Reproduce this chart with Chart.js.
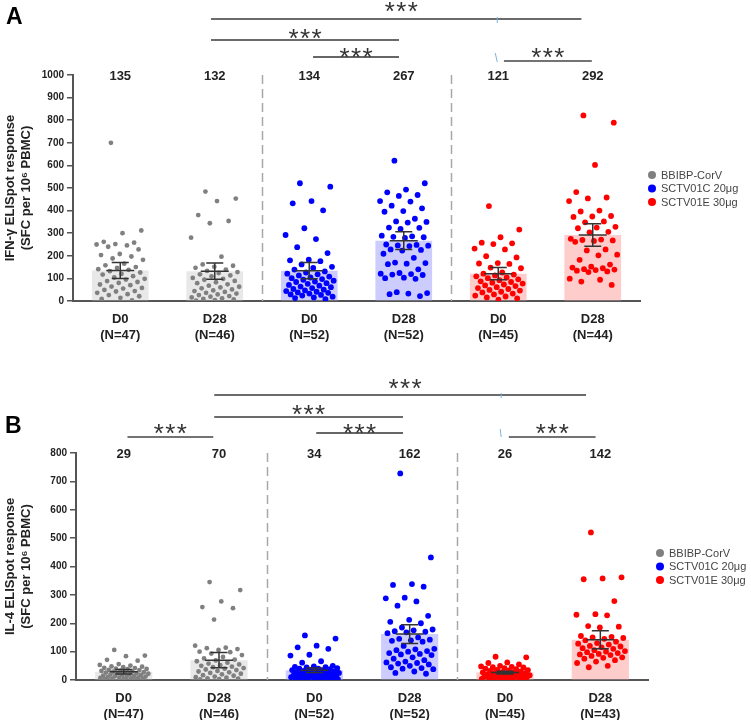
<!DOCTYPE html>
<html><head><meta charset="utf-8">
<script src="https://cdn.jsdelivr.net/npm/chart.js@4.4.1/dist/chart.umd.min.js"></script>
<style>
html,body{margin:0;padding:0;background:#fff;}
#wrap{position:relative;width:751px;height:724px;overflow:hidden;}
.panel{position:absolute;left:0;width:751px;height:362px;}
</style></head><body>
<div id="wrap">
<div class="panel" style="top:0"><canvas id="cA" width="751" height="362"></canvas></div>
<div class="panel" style="top:362px"><canvas id="cB" width="751" height="362"></canvas></div>
</div>
<script>
// ---------- data ----------
const categories = ['D0', 'D28', 'D0', 'D28', 'D0', 'D28'];
const groupNames = ['BBIBP-CorV', 'SCTV01C 20μg', 'SCTV01E 30μg'];
const nA = [47, 46, 52, 52, 45, 44];
const nB = [47, 46, 52, 52, 45, 43];
const meanA = [135, 132, 134, 267, 121, 292];
const semA = [35, 36, 36, 39, 27, 50];
const meanB = [29, 70, 34, 162, 26, 142];
const semB = [8, 27, 8, 33, 5, 32];
const yTicksA = [0, 1000, 100];
const yTicksB = [0, 800, 100];

// IFN-gamma individual values
const ifnBbibpD0 = [700,312,300,262,258,252,250,246,240,228,208,203,197,188,182,165,158,150,146,141,138,132,126,120,117,110,104,98,95,88,84,80,73,70,64,58,55,49,44,42,36,30,26,21,14,9,3];
const ifnBbibpD28 = [484,453,442,380,354,344,280,196,162,156,151,147,139,133,128,124,118,113,109,102,98,94,89,83,79,74,68,63,60,56,51,47,44,40,36,33,29,26,22,19,16,12,9,7,4,2];
const ifnCD0 = [521,506,442,432,401,322,292,274,238,212,183,180,176,162,151,146,139,131,126,121,118,113,108,104,101,97,94,90,86,84,79,76,71,68,64,61,57,53,50,47,44,41,38,36,33,29,27,24,19,16,13,8];
const ifnCD28 = [621,521,493,481,469,465,442,440,422,410,398,395,364,352,350,347,325,324,319,289,286,284,282,279,250,248,246,245,243,228,226,223,209,191,170,168,165,163,140,124,121,119,117,115,103,101,98,39,35,33,30,22];
const ifnED0 = [420,316,282,258,255,252,232,228,198,193,168,166,164,148,145,126,121,117,113,109,104,101,96,92,87,84,81,77,73,69,66,61,57,53,49,46,41,38,33,29,24,20,16,11,6];
const ifnED28 = [821,789,602,482,458,454,442,400,396,376,374,372,352,348,328,325,322,306,304,275,272,270,268,266,262,228,224,205,202,182,161,152,148,145,141,139,137,134,131,128,99,94,86,71];

// IL-4 individual values
const il4BbibpD0 = [106,86,84,71,68,56,53,51,48,47,45,43,42,40,39,38,36,35,33,32,30,29,28,27,26,24,23,22,20,19,18,17,15,14,13,12,11,10,9,8,7,6,5,4,3,2,1];
const il4BbibpD28 = [345,317,277,257,253,213,121,114,112,109,106,100,98,93,88,81,76,72,69,66,61,58,55,52,50,47,45,42,40,37,35,32,30,27,25,22,20,17,15,12,10,8,6,5,3,2];
const il4CD0 = [157,146,121,115,110,89,86,66,61,50,48,46,45,44,42,40,40,38,36,35,34,32,30,30,28,28,26,25,24,22,20,20,18,17,16,15,14,12,12,10,10,9,8,7,6,5,4,4,3,2,2,1];
const il4CD28 = [728,432,338,335,329,290,288,277,262,226,212,205,200,185,178,175,172,170,168,165,150,145,142,140,138,135,120,110,108,105,102,100,95,92,90,88,80,75,70,65,62,60,58,55,50,45,42,40,38,30,25,22];
const il4ED0 = [82,80,62,60,55,50,48,46,45,44,42,40,38,36,35,34,32,30,28,27,26,25,24,22,20,20,18,17,16,15,14,13,12,11,10,9,8,7,6,5,4,3,2,2,1];
const il4ED28 = [520,362,358,355,278,232,230,228,190,188,185,155,152,150,148,145,140,135,130,128,125,120,118,115,112,110,105,102,100,98,95,92,90,88,85,80,78,75,70,65,60,50,45];

// ---------- styling ----------
const FONT = "'Liberation Sans', Arial, Helvetica, sans-serif";
const pointColors = ['#808080', '#0000ff', '#ff0000'];
const barColors = ['#e8e8e8', '#ccccff', '#ffcccc'];

function jitter(i) { return ((i * 0.6180339887 + 0.31) % 1 - 0.5) * 0.52; }

const annot = {
  id: 'annot',
  beforeDatasetsDraw(chart, args, o) {
    const ctx = chart.ctx, xs = chart.scales.x, ca = chart.chartArea;
    ctx.save();
    ctx.strokeStyle = '#a8a8a8'; ctx.lineWidth = 1.5; ctx.setLineDash([9, 5]);
    [1.5, 3.5].forEach(v => {
      const px = Math.round(xs.getPixelForValue(v)) + 0.5;
      ctx.beginPath(); ctx.moveTo(px, ca.top); ctx.lineTo(px, ca.bottom); ctx.stroke();
    });
    ctx.restore();
  },
  afterDatasetsDraw(chart, args, o) {
    const ctx = chart.ctx, xs = chart.scales.x, ys = chart.scales.y;
    ctx.save();
    ctx.strokeStyle = '#333'; ctx.lineWidth = 1.5;
    o.means.forEach((m, i) => {
      const cx = xs.getPixelForValue(i);
      const yt = ys.getPixelForValue(m + o.sem[i]);
      const yb = ys.getPixelForValue(m - o.sem[i]);
      const ym = ys.getPixelForValue(m);
      ctx.beginPath();
      ctx.moveTo(cx, yt); ctx.lineTo(cx, yb);
      ctx.moveTo(cx - 8.5, yt); ctx.lineTo(cx + 8.5, yt);
      ctx.moveTo(cx - 8.5, yb); ctx.lineTo(cx + 8.5, yb);
      ctx.moveTo(cx - 14, ym); ctx.lineTo(cx + 14, ym);
      ctx.stroke();
    });
    ctx.restore();
  },
  afterDraw(chart, args, o) {
    const ctx = chart.ctx, xs = chart.scales.x, ca = chart.chartArea;
    ctx.save();
    // value labels
    ctx.fillStyle = '#222'; ctx.font = 'bold 13px ' + FONT;
    ctx.textAlign = 'center'; ctx.textBaseline = 'middle';
    o.means.forEach((m, i) => ctx.fillText(String(m), xs.getPixelForValue(i), ca.top + 1));
    // brackets
    o.brackets.forEach(b => {
      const x1 = xs.getPixelForValue(b.a), x2 = xs.getPixelForValue(b.b);
      const y = ca.top + b.ly;
      ctx.strokeStyle = b.col || '#6b6b6b'; ctx.lineWidth = b.lw || 2;
      ctx.beginPath(); ctx.moveTo(x1, y); ctx.lineTo(x2, y); ctx.stroke();
      const cx = (x1 + x2) / 2 + (b.dx || 0), sy = ca.top + b.sy;
      ctx.fillStyle = '#333'; ctx.font = '26px ' + FONT;
      ctx.textAlign = 'center'; ctx.textBaseline = 'alphabetic';
      [-11.5, 0, 11.5].forEach(d => ctx.fillText('*', cx + d, sy + 15.5));
    });
    // small blue marks (artefacts in the source figure)
    ctx.strokeStyle = '#7fb2e0'; ctx.lineWidth = 1;
    o.marks.forEach(m => {
      const x = xs.getPixelForValue(m.x);
      ctx.beginPath(); ctx.moveTo(x + m.dx1, ca.top + m.y1); ctx.lineTo(x + m.dx2, ca.top + m.y2); ctx.stroke();
    });
    // legend
    groupNames.forEach((g, i) => {
      const ly = ca.top + 100 + i * 13.5;
      ctx.fillStyle = pointColors[i];
      ctx.beginPath(); ctx.arc(ca.right + 12, ly, 4, 0, Math.PI * 2); ctx.fill();
      ctx.fillStyle = '#444'; ctx.font = '11px ' + FONT;
      ctx.textAlign = 'left'; ctx.textBaseline = 'middle';
      ctx.fillText(g, ca.right + 21, ly + 0.5);
    });
    // panel letter
    ctx.fillStyle = '#000'; ctx.font = 'bold 23px ' + FONT;
    ctx.textAlign = 'left'; ctx.textBaseline = 'alphabetic';
    ctx.fillText(o.letter, o.lx, o.ly);
    ctx.restore();
  }
};

function makePanel(id, p) {
  const datasets = [{
    type: 'bar', data: p.means.map((m, i) => ({ x: i, y: m })), order: 3,
    backgroundColor: p.means.map((_, i) => barColors[Math.floor(i / 2)]),
    barPercentage: 0.6, categoryPercentage: 1, grouped: false
  }];
  p.points.forEach((vals, c) => {
    datasets.push({
      type: 'scatter', order: 1,
      data: vals.map((v, i) => ({ x: c + jitter(i), y: v })),
      pointRadius: c < 2 ? 2.4 : 2.9, pointHoverRadius: 0, borderWidth: 0,
      backgroundColor: pointColors[Math.floor(c / 2)]
    });
  });
  return new Chart(document.getElementById(id), {
    type: 'scatter',
    data: { datasets },
    options: {
      responsive: false, animation: false, events: [],
      layout: { padding: { top: p.padTop, right: p.padRight, bottom: p.padBottom, left: 0 } },
      plugins: {
        legend: { display: false }, tooltip: { enabled: false },
        annot: { means: p.means, sem: p.sem, brackets: p.brackets, marks: p.marks, letter: p.letter, lx: p.lx, ly: p.ly }
      },
      scales: {
        x: {
          type: 'linear', min: -0.5, max: 5.5, offset: false,
          grid: { display: false, drawTicks: false },
          border: { display: true, color: '#555', width: 2 },
          afterBuildTicks: s => { s.ticks = categories.map((_, i) => ({ value: i })); },
          ticks: { padding: 11, color: '#222', maxRotation: 0, autoSkip: false,
                   callback: v => [categories[v], '(N=' + p.n[v] + ')'],
                   font: { family: FONT, size: 13, weight: 'bold', lineHeight: 1.2 } },
          afterFit: s => { s.height = p.xh; }
        },
        y: {
          type: 'linear', min: p.yt[0], max: p.yt[1],
          ticks: { stepSize: p.yt[2], color: '#222', padding: 3, callback: v => String(v),
                   font: { family: FONT, size: 10, weight: 'bold' } },
          grid: { drawOnChartArea: false, tickLength: 6, color: '#555', lineWidth: 1.5 },
          border: { color: '#555', width: 2 },
          title: { display: true, text: p.yTitle, color: '#222', padding: { top: 1.5, bottom: 0 },
                   font: { family: FONT, size: 13, weight: 'bold', lineHeight: 1.3 } },
          afterFit: s => { s.width = p.yw; }
        }
      }
    },
    plugins: [annot]
  });
}

makePanel('cA', {
  n: nA, means: meanA, sem: semA, yt: yTicksA,
  points: [ifnBbibpD0, ifnBbibpD28, ifnCD0, ifnCD28, ifnED0, ifnED28],
  yTitle: ['IFN-γ ELISpot response', '(SFC per 10⁶ PBMC)'],
  padTop: 75, padRight: 111, padBottom: 16, xh: 45, yw: 73,
  letter: 'A', lx: 6, ly: 24,
  brackets: [
    { a: 0.96, b: 4.88, ly: -56, sy: -71, dx: 5 },
    { a: 0.96, b: 2.95, ly: -35, sy: -44 },
    { a: 2.04, b: 2.95, ly: -18, sy: -25, col: '#333', lw: 1.5 },
    { a: 4.06, b: 4.99, ly: -14, sy: -25, col: '#444', lw: 1.5 }
  ],
  marks: [ { x: 4, dx1: -1, dx2: -1, y1: -58, y2: -52 }, { x: 4, dx1: -3, dx2: -1, y1: -22, y2: -13 } ]
});

makePanel('cB', {
  n: nB, means: meanB, sem: semB, yt: yTicksB,
  points: [il4BbibpD0, il4BbibpD28, il4CD0, il4CD28, il4ED0, il4ED28],
  yTitle: ['IL-4 ELISpot response', '(SFC per 10⁶ PBMC)'],
  padTop: 91, padRight: 103, padBottom: 4, xh: 40, yw: 76,
  letter: 'B', lx: 5, ly: 71,
  brackets: [
    { a: 0.95, b: 4.85, ly: -58, sy: -72, dx: 5 },
    { a: 0.95, b: 2.93, ly: -36, sy: -46 },
    { a: 2.02, b: 2.93, ly: -20, sy: -27, col: '#333', lw: 1.5 },
    { a: 0.04, b: 0.94, ly: -16, sy: -27, col: '#444', lw: 1.5 },
    { a: 4.04, b: 4.95, ly: -16, sy: -27, col: '#444', lw: 1.5 }
  ],
  marks: [ { x: 3.96, dx1: 0, dx2: 0, y1: -60, y2: -55 }, { x: 3.96, dx1: -1, dx2: 0, y1: -24, y2: -16 } ]
});
</script>
</body></html>
